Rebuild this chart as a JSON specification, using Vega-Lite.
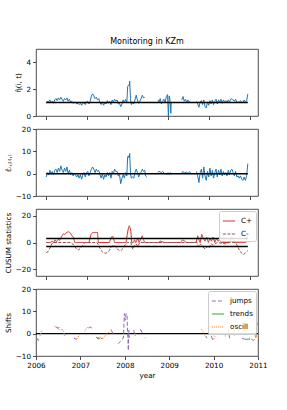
{
  "$schema": "https://vega.github.io/schema/vega-lite/v6.json",
  "padding": {"left": 3, "top": 37, "right": 0, "bottom": 0},
  "bounds": "flush",
  "spacing": 13,
  "datasets": {
    "ref1": [{"t":2006,"v":1,"g":"a"},{"t":2010.95,"v":1,"g":"a"}],
    "ref2": [{"t":2006,"v":0,"g":"a"},{"t":2010.95,"v":0,"g":"a"}],
    "ref3": [{"t":2006,"v":3,"g":"a"},{"t":2010.95,"v":3,"g":"a"},{"t":2006,"v":-3,"g":"b"},{"t":2010.95,"v":-3,"g":"b"}],
    "ref4": [{"t":2006,"v":0,"g":"a"},{"t":2011,"v":0,"g":"a"}],
    "eta": [
      {"t":2006.00,"v":0.95},{"t":2006.03,"v":1.1},{"t":2006.06,"v":1.05},{"t":2006.09,"v":1.2},{"t":2006.12,"v":1.0},{"t":2006.15,"v":1.1},{"t":2006.18,"v":0.95},{"t":2006.21,"v":1.2},{"t":2006.24,"v":1.3},{"t":2006.27,"v":1.15},{"t":2006.30,"v":1.35},{"t":2006.33,"v":1.2},{"t":2006.36,"v":1.4},{"t":2006.39,"v":1.25},{"t":2006.42,"v":1.1},{"t":2006.45,"v":1.3},{"t":2006.48,"v":1.2},{"t":2006.51,"v":1.35},{"t":2006.54,"v":1.1},{"t":2006.57,"v":1.25},{"t":2006.60,"v":1.05},{"t":2006.63,"v":1.1},{"t":2006.66,"v":0.95},{"t":2006.69,"v":1.0},{"t":2006.72,"v":1.0},{"t":2006.75,"v":0.9},{"t":2006.78,"v":0.95},{"t":2006.81,"v":0.85},{"t":2006.84,"v":0.95},{"t":2006.87,"v":0.8},{"t":2006.90,"v":0.95},{"t":2006.93,"v":1.0},{"t":2006.96,"v":0.85},{"t":2006.99,"v":1.05},{"t":2007.02,"v":1.1},{"t":2007.05,"v":0.9},{"t":2007.08,"v":1.1},{"t":2007.11,"v":1.5},{"t":2007.14,"v":1.65},{"t":2007.17,"v":1.5},{"t":2007.20,"v":1.3},{"t":2007.23,"v":1.4},{"t":2007.26,"v":1.2},{"t":2007.29,"v":1.3},{"t":2007.32,"v":1.0},{"t":2007.35,"v":0.85},{"t":2007.38,"v":1.05},{"t":2007.41,"v":0.8},{"t":2007.44,"v":1.0},{"t":2007.47,"v":0.9},{"t":2007.50,"v":1.15},{"t":2007.53,"v":0.95},{"t":2007.56,"v":1.1},{"t":2007.59,"v":0.85},{"t":2007.62,"v":1.2},{"t":2007.65,"v":1.05},{"t":2007.68,"v":1.25},{"t":2007.71,"v":1.1},{"t":2007.74,"v":1.2},{"t":2007.77,"v":0.9},{"t":2007.80,"v":0.95},{"t":2007.83,"v":0.7},{"t":2007.86,"v":0.9},{"t":2007.89,"v":1.2},{"t":2007.92,"v":1.0},{"t":2007.95,"v":1.25},{"t":2007.98,"v":1.0},{"t":2008.00,"v":2.2},{"t":2008.02,"v":2.3},{"t":2008.04,"v":2.25},{"t":2008.05,"v":2.6},{"t":2008.07,"v":1.3},{"t":2008.09,"v":0.85},{"t":2008.12,"v":1.0},{"t":2008.15,"v":0.9},{"t":2008.18,"v":1.2},{"t":2008.21,"v":1.55},{"t":2008.24,"v":1.2},{"t":2008.27,"v":0.95},{"t":2008.30,"v":1.1},{"t":2008.33,"v":1.3},{"t":2008.36,"v":1.55},{"t":2008.39,"v":1.35},{"t":2008.42,"v":1.4},{"t":2008.44,"v":null},
      {"t":2008.74,"v":1.2},{"t":2008.77,"v":1.05},{"t":2008.80,"v":1.3},{"t":2008.83,"v":0.9},{"t":2008.86,"v":1.1},{"t":2008.89,"v":1.25},{"t":2008.92,"v":1.0},{"t":2008.95,"v":1.45},{"t":2008.98,"v":1.6},{"t":2009.00,"v":0.0},{"t":2009.02,"v":1.5},{"t":2009.04,"v":1.2},{"t":2009.06,"v":0.2},{"t":2009.07,"v":1.0},{"t":2009.09,"v":null},
      {"t":2009.33,"v":1.2},{"t":2009.36,"v":1.45},{"t":2009.39,"v":1.1},{"t":2009.42,"v":1.25},{"t":2009.45,"v":1.0},{"t":2009.48,"v":1.2},{"t":2009.51,"v":1.05},{"t":2009.54,"v":1.1},{"t":2009.57,"v":null},
      {"t":2009.69,"v":1.1},{"t":2009.72,"v":0.9},{"t":2009.75,"v":0.65},{"t":2009.78,"v":1.05},{"t":2009.81,"v":1.15},{"t":2009.84,"v":0.85},{"t":2009.87,"v":1.2},{"t":2009.90,"v":0.7},{"t":2009.93,"v":0.6},{"t":2009.96,"v":1.05},{"t":2009.99,"v":0.8},{"t":2010.02,"v":1.15},{"t":2010.05,"v":0.9},{"t":2010.08,"v":1.2},{"t":2010.11,"v":0.85},{"t":2010.14,"v":1.1},{"t":2010.17,"v":1.25},{"t":2010.20,"v":0.9},{"t":2010.23,"v":1.2},{"t":2010.26,"v":1.0},{"t":2010.29,"v":1.25},{"t":2010.32,"v":0.95},{"t":2010.35,"v":1.2},{"t":2010.38,"v":1.05},{"t":2010.41,"v":1.15},{"t":2010.44,"v":1.0},{"t":2010.47,"v":1.2},{"t":2010.50,"v":1.05},{"t":2010.53,"v":1.25},{"t":2010.56,"v":1.3},{"t":2010.59,"v":1.2},{"t":2010.62,"v":1.1},{"t":2010.65,"v":1.25},{"t":2010.68,"v":1.0},{"t":2010.71,"v":1.05},{"t":2010.74,"v":1.0},{"t":2010.77,"v":1.15},{"t":2010.80,"v":1.05},{"t":2010.83,"v":1.0},{"t":2010.86,"v":1.2},{"t":2010.89,"v":1.05},{"t":2010.92,"v":1.1},{"t":2010.95,"v":1.65}
    ],
    "eps": [
      {"t":2006.00,"v":-1.5},{"t":2006.03,"v":0.5},{"t":2006.06,"v":-0.5},{"t":2006.09,"v":1.5},{"t":2006.12,"v":0},{"t":2006.15,"v":1.0},{"t":2006.18,"v":-0.5},{"t":2006.21,"v":1.5},{"t":2006.24,"v":2.0},{"t":2006.27,"v":0.5},{"t":2006.30,"v":2.5},{"t":2006.33,"v":1.0},{"t":2006.36,"v":3.5},{"t":2006.39,"v":1.5},{"t":2006.42,"v":0.5},{"t":2006.45,"v":2.5},{"t":2006.48,"v":1.0},{"t":2006.51,"v":3.0},{"t":2006.54,"v":0.0},{"t":2006.57,"v":1.5},{"t":2006.60,"v":-0.5},{"t":2006.63,"v":0.5},{"t":2006.66,"v":-1.0},{"t":2006.69,"v":0.0},{"t":2006.72,"v":-0.5},{"t":2006.75,"v":-1.5},{"t":2006.78,"v":-0.5},{"t":2006.81,"v":-2.0},{"t":2006.84,"v":-0.5},{"t":2006.87,"v":-2.5},{"t":2006.90,"v":-0.5},{"t":2006.93,"v":0.5},{"t":2006.96,"v":-1.5},{"t":2006.99,"v":0.5},{"t":2007.02,"v":1.0},{"t":2007.05,"v":-1.0},{"t":2007.08,"v":0.5},{"t":2007.11,"v":2.0},{"t":2007.14,"v":3.0},{"t":2007.17,"v":2.0},{"t":2007.20,"v":0.5},{"t":2007.23,"v":2.0},{"t":2007.26,"v":1.0},{"t":2007.29,"v":1.5},{"t":2007.32,"v":-0.5},{"t":2007.35,"v":-2.0},{"t":2007.38,"v":0.0},{"t":2007.41,"v":-2.5},{"t":2007.44,"v":-0.5},{"t":2007.47,"v":-1.5},{"t":2007.50,"v":0.5},{"t":2007.53,"v":-1.0},{"t":2007.56,"v":0.5},{"t":2007.59,"v":-2.0},{"t":2007.62,"v":1.0},{"t":2007.65,"v":0.0},{"t":2007.68,"v":2.0},{"t":2007.71,"v":1.0},{"t":2007.74,"v":1.0},{"t":2007.77,"v":-1.0},{"t":2007.80,"v":-0.5},{"t":2007.83,"v":-4.5},{"t":2007.86,"v":-2.0},{"t":2007.89,"v":-0.5},{"t":2007.92,"v":-2.0},{"t":2007.95,"v":0.5},{"t":2007.98,"v":-1.0},{"t":2008.00,"v":7.5},{"t":2008.02,"v":8.0},{"t":2008.04,"v":7.0},{"t":2008.05,"v":9.0},{"t":2008.07,"v":0.0},{"t":2008.09,"v":-2.0},{"t":2008.12,"v":-1.5},{"t":2008.15,"v":-2.0},{"t":2008.18,"v":0.5},{"t":2008.21,"v":2.0},{"t":2008.24,"v":0.5},{"t":2008.27,"v":-1.5},{"t":2008.30,"v":0.0},{"t":2008.33,"v":0.5},{"t":2008.36,"v":2.0},{"t":2008.39,"v":1.0},{"t":2008.42,"v":1.5},{"t":2008.44,"v":-1.0},{"t":2008.47,"v":-1.5},{"t":2008.49,"v":null},
      {"t":2008.74,"v":0.5},{"t":2008.77,"v":1.0},{"t":2008.80,"v":0.8},{"t":2008.83,"v":0.5},{"t":2008.86,"v":1.0},{"t":2008.89,"v":0.3},{"t":2008.92,"v":null},
      {"t":2008.96,"v":-0.5},{"t":2008.99,"v":0.5},{"t":2009.02,"v":-0.3},{"t":2009.05,"v":0.4},{"t":2009.08,"v":0.0},{"t":2009.10,"v":null},
      {"t":2009.33,"v":0.3},{"t":2009.36,"v":1.0},{"t":2009.40,"v":0.2},{"t":2009.44,"v":0.8},{"t":2009.48,"v":0.1},{"t":2009.52,"v":0.9},{"t":2009.55,"v":0.5},{"t":2009.57,"v":null},
      {"t":2009.69,"v":1.0},{"t":2009.72,"v":-1.0},{"t":2009.75,"v":-4.0},{"t":2009.78,"v":0.5},{"t":2009.81,"v":2.0},{"t":2009.84,"v":-2.0},{"t":2009.87,"v":3.0},{"t":2009.90,"v":-1.0},{"t":2009.93,"v":-3.0},{"t":2009.96,"v":1.0},{"t":2009.99,"v":-1.5},{"t":2010.02,"v":2.5},{"t":2010.05,"v":-1.0},{"t":2010.08,"v":1.5},{"t":2010.11,"v":-2.0},{"t":2010.14,"v":0.5},{"t":2010.17,"v":2.0},{"t":2010.20,"v":-1.5},{"t":2010.23,"v":1.5},{"t":2010.26,"v":-0.5},{"t":2010.29,"v":2.0},{"t":2010.32,"v":-1.0},{"t":2010.35,"v":1.0},{"t":2010.38,"v":-0.5},{"t":2010.41,"v":0.5},{"t":2010.44,"v":-1.0},{"t":2010.47,"v":1.5},{"t":2010.50,"v":-0.5},{"t":2010.53,"v":1.5},{"t":2010.56,"v":2.0},{"t":2010.59,"v":0.5},{"t":2010.62,"v":-1.0},{"t":2010.65,"v":1.0},{"t":2010.68,"v":-1.5},{"t":2010.71,"v":-1.0},{"t":2010.74,"v":-2.0},{"t":2010.77,"v":-1.0},{"t":2010.80,"v":-2.5},{"t":2010.83,"v":-3.0},{"t":2010.86,"v":-1.5},{"t":2010.89,"v":-3.0},{"t":2010.92,"v":-1.0},{"t":2010.95,"v":4.5}
    ],
    "cusum": [
      {"s":"C+","t":2006.00,"v":0},{"s":"C+","t":2006.10,"v":0},{"s":"C+","t":2006.15,"v":1},{"s":"C+","t":2006.18,"v":0},{"s":"C+","t":2006.22,"v":2},{"s":"C+","t":2006.25,"v":0.5},{"s":"C+","t":2006.30,"v":2.5},{"s":"C+","t":2006.33,"v":1.5},{"s":"C+","t":2006.37,"v":4},{"s":"C+","t":2006.42,"v":6.5},{"s":"C+","t":2006.46,"v":6},{"s":"C+","t":2006.50,"v":7.5},{"s":"C+","t":2006.55,"v":8},{"s":"C+","t":2006.60,"v":7},{"s":"C+","t":2006.63,"v":5},{"s":"C+","t":2006.67,"v":4},{"s":"C+","t":2006.70,"v":0},{"s":"C+","t":2007.05,"v":0},{"s":"C+","t":2007.10,"v":6},{"s":"C+","t":2007.14,"v":7.5},{"s":"C+","t":2007.20,"v":7.5},{"s":"C+","t":2007.26,"v":7.5},{"s":"C+","t":2007.28,"v":0},{"s":"C+","t":2007.55,"v":0},{"s":"C+","t":2007.60,"v":4},{"s":"C+","t":2007.64,"v":4.5},{"s":"C+","t":2007.68,"v":0},{"s":"C+","t":2007.96,"v":0},{"s":"C+","t":2007.99,"v":6},{"s":"C+","t":2008.02,"v":11},{"s":"C+","t":2008.04,"v":12.5},{"s":"C+","t":2008.06,"v":11},{"s":"C+","t":2008.08,"v":8},{"s":"C+","t":2008.10,"v":0},{"s":"C+","t":2008.14,"v":0},{"s":"C+","t":2008.17,"v":2},{"s":"C+","t":2008.20,"v":0},{"s":"C+","t":2008.25,"v":3},{"s":"C+","t":2008.28,"v":0},{"s":"C+","t":2008.33,"v":3},{"s":"C+","t":2008.36,"v":5},{"s":"C+","t":2008.39,"v":2},{"s":"C+","t":2008.42,"v":0},{"s":"C+","t":2008.76,"v":0},{"s":"C+","t":2008.80,"v":1},{"s":"C+","t":2008.85,"v":0.5},{"s":"C+","t":2008.90,"v":0},{"s":"C+","t":2009.30,"v":0},{"s":"C+","t":2009.35,"v":2},{"s":"C+","t":2009.40,"v":1},{"s":"C+","t":2009.45,"v":0},{"s":"C+","t":2009.68,"v":0},{"s":"C+","t":2009.72,"v":5},{"s":"C+","t":2009.75,"v":2},{"s":"C+","t":2009.78,"v":0},{"s":"C+","t":2009.82,"v":6},{"s":"C+","t":2009.86,"v":3},{"s":"C+","t":2009.90,"v":1},{"s":"C+","t":2009.94,"v":4},{"s":"C+","t":2009.98,"v":0},{"s":"C+","t":2010.02,"v":3},{"s":"C+","t":2010.06,"v":1},{"s":"C+","t":2010.10,"v":4},{"s":"C+","t":2010.14,"v":0},{"s":"C+","t":2010.18,"v":3},{"s":"C+","t":2010.22,"v":1},{"s":"C+","t":2010.26,"v":2},{"s":"C+","t":2010.30,"v":0},{"s":"C+","t":2010.50,"v":0},{"s":"C+","t":2010.55,"v":4},{"s":"C+","t":2010.60,"v":2},{"s":"C+","t":2010.64,"v":0},{"s":"C+","t":2010.90,"v":0},{"s":"C+","t":2010.95,"v":5},
      {"s":"C-","t":2006.00,"v":-7.5},{"s":"C-","t":2006.04,"v":-7},{"s":"C-","t":2006.08,"v":-5},{"s":"C-","t":2006.12,"v":-2},{"s":"C-","t":2006.16,"v":0},{"s":"C-","t":2006.60,"v":0},{"s":"C-","t":2006.65,"v":-1},{"s":"C-","t":2006.70,"v":-3},{"s":"C-","t":2006.75,"v":-5},{"s":"C-","t":2006.80,"v":-5.5},{"s":"C-","t":2006.85,"v":-4},{"s":"C-","t":2006.90,"v":-2},{"s":"C-","t":2006.95,"v":0},{"s":"C-","t":2007.25,"v":0},{"s":"C-","t":2007.30,"v":-3},{"s":"C-","t":2007.35,"v":-6},{"s":"C-","t":2007.40,"v":-7.5},{"s":"C-","t":2007.45,"v":-8},{"s":"C-","t":2007.50,"v":-7.5},{"s":"C-","t":2007.55,"v":-6},{"s":"C-","t":2007.60,"v":-3},{"s":"C-","t":2007.64,"v":-2},{"s":"C-","t":2007.70,"v":-3},{"s":"C-","t":2007.75,"v":-5},{"s":"C-","t":2007.80,"v":-6},{"s":"C-","t":2007.85,"v":-5.5},{"s":"C-","t":2007.90,"v":-4},{"s":"C-","t":2007.95,"v":-1},{"s":"C-","t":2007.99,"v":0},{"s":"C-","t":2008.08,"v":0},{"s":"C-","t":2008.10,"v":-3},{"s":"C-","t":2008.13,"v":-5},{"s":"C-","t":2008.16,"v":-3},{"s":"C-","t":2008.20,"v":-1},{"s":"C-","t":2008.25,"v":-3},{"s":"C-","t":2008.30,"v":0},{"s":"C-","t":2009.70,"v":0},{"s":"C-","t":2009.74,"v":-3},{"s":"C-","t":2009.78,"v":-1},{"s":"C-","t":2009.84,"v":-3},{"s":"C-","t":2009.90,"v":-5},{"s":"C-","t":2009.95,"v":-3},{"s":"C-","t":2010.00,"v":-4},{"s":"C-","t":2010.05,"v":-1},{"s":"C-","t":2010.10,"v":-2},{"s":"C-","t":2010.20,"v":0},{"s":"C-","t":2010.40,"v":-1},{"s":"C-","t":2010.50,"v":0},{"s":"C-","t":2010.65,"v":0},{"s":"C-","t":2010.70,"v":-3},{"s":"C-","t":2010.75,"v":-6},{"s":"C-","t":2010.80,"v":-8},{"s":"C-","t":2010.85,"v":-9},{"s":"C-","t":2010.90,"v":-7.5},{"s":"C-","t":2010.95,"v":-6}
    ],
    "shifts": [
      {"s":"jumps","t":2006.02,"v":-2.0},{"s":"jumps","t":2006.05,"v":-3.0},{"s":"jumps","t":2006.08,"v":-2.5},{"s":"jumps","t":2006.10,"v":null},
      {"s":"jumps","t":2006.45,"v":3.0},{"s":"jumps","t":2006.50,"v":2.5},{"s":"jumps","t":2006.55,"v":3.0},{"s":"jumps","t":2006.57,"v":null},
      {"s":"jumps","t":2006.85,"v":-2.0},{"s":"jumps","t":2006.90,"v":-2.5},{"s":"jumps","t":2006.95,"v":-2.0},{"s":"jumps","t":2006.97,"v":null},
      {"s":"jumps","t":2007.18,"v":2.5},{"s":"jumps","t":2007.22,"v":3.0},{"s":"jumps","t":2007.26,"v":2.5},{"s":"jumps","t":2007.28,"v":null},
      {"s":"jumps","t":2007.35,"v":-1.5},{"s":"jumps","t":2007.42,"v":-2.5},{"s":"jumps","t":2007.50,"v":-2.0},{"s":"jumps","t":2007.52,"v":null},
      {"s":"jumps","t":2007.70,"v":1.5},{"s":"jumps","t":2007.73,"v":0.0},{"s":"jumps","t":2007.75,"v":null},
      {"s":"jumps","t":2007.85,"v":-4.5},{"s":"jumps","t":2007.90,"v":-3.5},{"s":"jumps","t":2007.95,"v":-2.5},{"s":"jumps","t":2007.97,"v":-1.5},{"s":"jumps","t":2007.99,"v":9.0},{"s":"jumps","t":2008.01,"v":6.0},{"s":"jumps","t":2008.03,"v":9.0},{"s":"jumps","t":2008.05,"v":8.0},{"s":"jumps","t":2008.06,"v":3.0},{"s":"jumps","t":2008.08,"v":-7.5},{"s":"jumps","t":2008.09,"v":1.5},{"s":"jumps","t":2008.10,"v":-2.0},{"s":"jumps","t":2008.12,"v":null},
      {"s":"jumps","t":2008.20,"v":1.5},{"s":"jumps","t":2008.22,"v":0.0},{"s":"jumps","t":2008.24,"v":null},
      {"s":"jumps","t":2008.35,"v":2.0},{"s":"jumps","t":2008.40,"v":0.0},{"s":"jumps","t":2008.42,"v":null},
      {"s":"jumps","t":2009.82,"v":-1.0},{"s":"jumps","t":2009.85,"v":-2.0},{"s":"jumps","t":2009.87,"v":null},
      {"s":"jumps","t":2009.95,"v":-1.0},{"s":"jumps","t":2009.98,"v":-3.0},{"s":"jumps","t":2010.02,"v":-2.0},{"s":"jumps","t":2010.04,"v":null},
      {"s":"jumps","t":2010.33,"v":2.0},{"s":"jumps","t":2010.36,"v":-2.0},{"s":"jumps","t":2010.38,"v":null},
      {"s":"jumps","t":2010.64,"v":-2.0},{"s":"jumps","t":2010.70,"v":-2.5},{"s":"jumps","t":2010.75,"v":-2.5},{"s":"jumps","t":2010.77,"v":null},
      {"s":"jumps","t":2010.85,"v":-2.5},{"s":"jumps","t":2010.90,"v":-3.0},{"s":"jumps","t":2010.95,"v":-2.0},{"s":"jumps","t":2010.98,"v":5.0},
      {"s":"trends","t":2007.38,"v":-2.0},{"s":"trends","t":2007.45,"v":-2.0},{"s":"trends","t":2007.47,"v":null},
      {"s":"trends","t":2009.88,"v":2.5},{"s":"trends","t":2009.90,"v":1.0},{"s":"trends","t":2009.92,"v":null},
      {"s":"trends","t":2010.72,"v":-2.5},{"s":"trends","t":2010.82,"v":-2.5},
      {"s":"oscill","t":2006.09,"v":-1.0},{"s":"oscill","t":2006.12,"v":1.0},{"s":"oscill","t":2006.15,"v":1.5},{"s":"oscill","t":2006.17,"v":null},
      {"s":"oscill","t":2006.42,"v":3.5},{"s":"oscill","t":2006.46,"v":2.5},{"s":"oscill","t":2006.52,"v":2.0},{"s":"oscill","t":2006.56,"v":1.5},{"s":"oscill","t":2006.60,"v":2.0},{"s":"oscill","t":2006.65,"v":-1.0},{"s":"oscill","t":2006.68,"v":0.0},{"s":"oscill","t":2006.70,"v":null},
      {"s":"oscill","t":2006.95,"v":-1.5},{"s":"oscill","t":2006.99,"v":0.0},{"s":"oscill","t":2007.01,"v":null},
      {"s":"oscill","t":2007.10,"v":1.0},{"s":"oscill","t":2007.14,"v":2.5},{"s":"oscill","t":2007.18,"v":3.0},{"s":"oscill","t":2007.20,"v":null},
      {"s":"oscill","t":2007.40,"v":-2.0},{"s":"oscill","t":2007.45,"v":-1.5},{"s":"oscill","t":2007.50,"v":-2.5},{"s":"oscill","t":2007.55,"v":-1.0},{"s":"oscill","t":2007.60,"v":0.0},{"s":"oscill","t":2007.65,"v":1.0},{"s":"oscill","t":2007.70,"v":2.0},{"s":"oscill","t":2007.72,"v":null},
      {"s":"oscill","t":2008.23,"v":-1.0},{"s":"oscill","t":2008.25,"v":0.0},{"s":"oscill","t":2008.27,"v":null},
      {"s":"oscill","t":2008.45,"v":-2.0},{"s":"oscill","t":2008.48,"v":-1.5},{"s":"oscill","t":2008.50,"v":null},
      {"s":"oscill","t":2009.72,"v":2.0},{"s":"oscill","t":2009.76,"v":1.0},{"s":"oscill","t":2009.80,"v":-1.0},{"s":"oscill","t":2009.82,"v":null},
      {"s":"oscill","t":2010.00,"v":-1.0},{"s":"oscill","t":2010.05,"v":-1.5},{"s":"oscill","t":2010.07,"v":null},
      {"s":"oscill","t":2010.15,"v":1.5},{"s":"oscill","t":2010.17,"v":1.0},{"s":"oscill","t":2010.19,"v":null},
      {"s":"oscill","t":2010.25,"v":-1.0},{"s":"oscill","t":2010.28,"v":-1.0},{"s":"oscill","t":2010.30,"v":null},
      {"s":"oscill","t":2010.45,"v":0.0},{"s":"oscill","t":2010.48,"v":-1.0},{"s":"oscill","t":2010.50,"v":null},
      {"s":"oscill","t":2010.56,"v":1.5},{"s":"oscill","t":2010.60,"v":1.5},{"s":"oscill","t":2010.62,"v":null},
      {"s":"oscill","t":2010.80,"v":-2.0},{"s":"oscill","t":2010.85,"v":-2.0},{"s":"oscill","t":2010.87,"v":null},
      {"s":"oscill","t":2010.92,"v":-1.0},{"s":"oscill","t":2010.95,"v":-1.5},{"s":"oscill","t":2010.98,"v":-1.0}
    ]
  },
  "vconcat": [
    {
      "width": 222, "height": 67,
      "title": {"text": "Monitoring in KZm", "offset": 3},
      "encoding": {
        "x": {"field": "t", "type": "quantitative", "scale": {"domain": [2005.75, 2011.2], "nice": false, "zero": false}, "axis": {"values": [2006, 2007, 2008, 2009, 2010, 2011], "labels": false, "title": null}},
        "y": {"field": "v", "type": "quantitative", "scale": {"domain": [0, 5], "nice": false}, "axis": {"values": [0, 2, 4], "title": "η̂(i, t)"}}
      },
      "layer": [
        {"data": {"name": "eta"}, "mark": {"type": "line", "color": "#1f77b4", "strokeWidth": 1, "invalid": "break-paths-show-domains"}},
        {"data": {"name": "ref1"}, "mark": {"type": "line", "color": "#000", "strokeWidth": 1.5}}
      ]
    },
    {
      "width": 222, "height": 67,
      "encoding": {
        "x": {"field": "t", "type": "quantitative", "scale": {"domain": [2005.75, 2011.2], "nice": false, "zero": false}, "axis": {"values": [2006, 2007, 2008, 2009, 2010, 2011], "labels": false, "title": null}},
        "y": {"field": "v", "type": "quantitative", "scale": {"domain": [-10, 20], "nice": false}, "axis": {"values": [-10, 0, 10, 20], "title": "ε̂ᵢ,ⱼ₍ᵢ₎,ₜ"}}
      },
      "layer": [
        {"data": {"name": "eps"}, "mark": {"type": "line", "color": "#1f77b4", "strokeWidth": 1, "invalid": "break-paths-show-domains"}},
        {"data": {"name": "ref2"}, "mark": {"type": "line", "color": "#000", "strokeWidth": 1.5}}
      ]
    },
    {
      "width": 222, "height": 67,
      "encoding": {
        "x": {"field": "t", "type": "quantitative", "scale": {"domain": [2005.75, 2011.2], "nice": false, "zero": false}, "axis": {"values": [2006, 2007, 2008, 2009, 2010, 2011], "labels": false, "title": null}},
        "y": {"field": "v", "type": "quantitative", "scale": {"domain": [-25, 25], "nice": false}, "axis": {"values": [-20, 0, 20], "title": "CUSUM statistics"}}
      },
      "layer": [
        {
          "data": {"name": "cusum"},
          "mark": {"type": "line", "strokeWidth": 1},
          "encoding": {
            "color": {"field": "s", "type": "nominal", "scale": {"domain": ["C+", "C-"], "range": ["#d62728", "#8c564b"]}, "legend": {"title": null, "orient": "top-right"}},
            "strokeDash": {"field": "s", "type": "nominal", "scale": {"domain": ["C+", "C-"], "range": [[1, 0], [3, 1.5]]}, "legend": {"title": null, "orient": "top-right"}}
          }
        },
        {"data": {"name": "ref3"}, "mark": {"type": "line", "color": "#000", "strokeWidth": 1.5}, "encoding": {"detail": {"field": "g", "type": "nominal"}}}
      ]
    },
    {
      "width": 222, "height": 67,
      "encoding": {
        "x": {"field": "t", "type": "quantitative", "scale": {"domain": [2006, 2011], "nice": false, "zero": false}, "axis": {"values": [2006, 2007, 2008, 2009, 2010, 2011], "format": "d", "title": "year", "labelFlush": false}},
        "y": {"field": "v", "type": "quantitative", "scale": {"domain": [-10, 20], "nice": false}, "axis": {"values": [-10, 0, 10, 20], "title": "Shifts"}}
      },
      "layer": [
        {"data": {"name": "ref4"}, "mark": {"type": "line", "color": "#000", "strokeWidth": 1.2}},
        {
          "data": {"name": "shifts"},
          "mark": {"type": "line", "strokeWidth": 1, "invalid": "break-paths-show-domains"},
          "encoding": {
            "color": {"field": "s", "type": "nominal", "scale": {"domain": ["jumps", "trends", "oscill"], "range": ["#9467bd", "#2ca02c", "#ff7f0e"]}, "legend": {"title": null, "orient": "top-right"}},
            "strokeDash": {"field": "s", "type": "nominal", "scale": {"domain": ["jumps", "trends", "oscill"], "range": [[4, 2], [1, 0], [1, 1]]}, "legend": {"title": null, "orient": "top-right"}}
          }
        }
      ]
    }
  ],
  "resolve": {"scale": {"x": "independent", "y": "independent", "color": "independent", "strokeDash": "independent"}},
  "config": {
    "font": "DejaVu Sans",
    "view": {"stroke": "#222", "strokeWidth": 0.8},
    "axis": {"grid": false, "domain": false, "tickColor": "#222", "tickSize": 3.5, "tickWidth": 0.8, "labelFontSize": 7.2, "labelColor": "#000", "labelPadding": 2, "titleFontSize": 7.2, "titleFontWeight": "normal", "titleColor": "#000", "titlePadding": 3, "labelOverlap": false},
    "title": {"fontSize": 8, "fontWeight": "normal", "color": "#000"},
    "legend": {"symbolType": "stroke", "symbolSize": 150, "symbolStrokeWidth": 1, "labelFontSize": 7.2, "labelColor": "#000", "strokeColor": "#ccc", "fillColor": "rgba(255,255,255,0.85)", "cornerRadius": 2, "padding": 3, "offset": 2, "rowPadding": 2, "labelOffset": 5}
  }
}
